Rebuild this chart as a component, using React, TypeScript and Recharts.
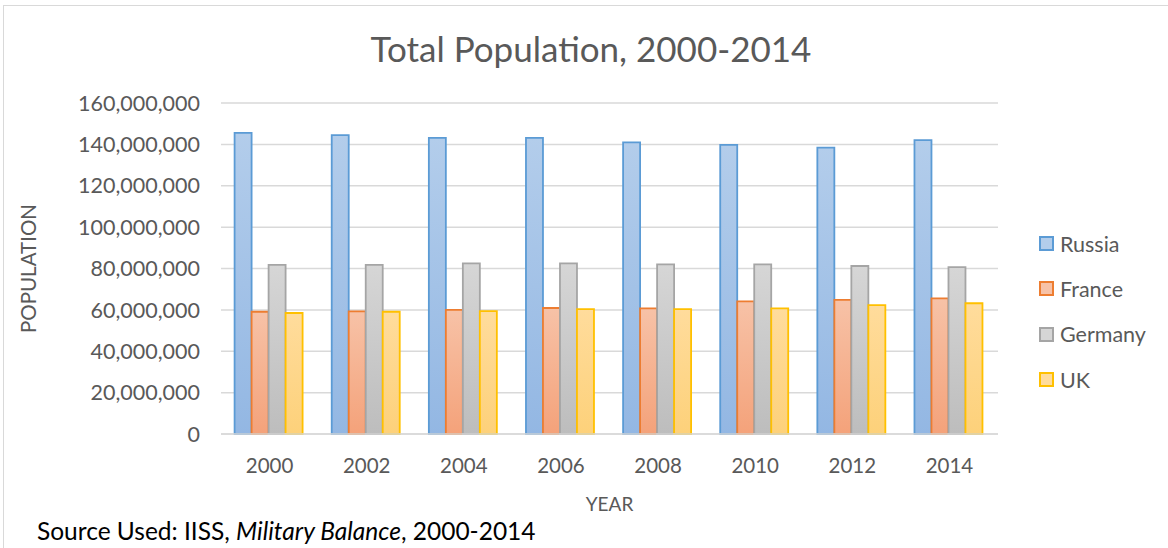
import { Bar, BarChart, CartesianGrid, Label, XAxis, YAxis } from "recharts";

const years = ["2000", "2002", "2004", "2006", "2008", "2010", "2012", "2014"];
const russia = [145.6, 144.5, 143.1, 143.1, 141.0, 139.8, 138.4, 142.1];
const france = [59.1, 59.3, 60.0, 60.9, 60.7, 64.1, 64.8, 65.6];
const germany = [81.8, 81.8, 82.5, 82.5, 82.0, 82.0, 81.2, 80.7];
const uk = [58.5, 59.1, 59.4, 60.4, 60.4, 60.7, 62.3, 63.2];
const yTicks = [0, 20e6, 40e6, 60e6, 80e6, 100e6, 120e6, 140e6, 160e6];

const SERIES = [
  { key: "russia", name: "Russia", values: russia, stroke: "#5b9bd5", top: "#b3cdeb", bottom: "#93b7e3" },
  { key: "france", name: "France", values: france, stroke: "#ed7d31", top: "#f7c2a7", bottom: "#f4a27a" },
  { key: "germany", name: "Germany", values: germany, stroke: "#a5a5a5", top: "#d6d6d6", bottom: "#bdbdbd" },
  { key: "uk", name: "UK", values: uk, stroke: "#ffc000", top: "#ffdc9c", bottom: "#fdd17a" },
];

const data = years.map((year, i) => {
  const row: Record<string, string | number> = { year };
  SERIES.forEach((s) => {
    row[s.key] = s.values[i] * 1e6;
  });
  return row;
});

const FONT = "Lato, 'Open Sans', sans-serif";
const GREY = "#595959";

export default function App() {
  return (
    <div
      style={{
        position: "absolute",
        left: 0,
        top: 0,
        width: 1168,
        height: 548,
        background: "#fff",
        fontFamily: FONT,
        overflow: "hidden",
      }}
    >
      <div
        style={{
          position: "absolute",
          left: 3,
          top: 5,
          width: 1180,
          height: 560,
          border: "1px solid #d9d9d9",
        }}
      />
      <div
        style={{
          position: "absolute",
          left: 0,
          top: 27,
          width: 1182,
          textAlign: "center",
          fontSize: 35,
          color: GREY,
        }}
      >
        Total Population, 2000-2014
      </div>
      <BarChart
        width={1168}
        height={548}
        data={data}
        margin={{ top: 103, right: 170, bottom: 34, left: 0 }}
        barCategoryGap="14%"
        barGap={0}
        style={{ position: "absolute", left: 0, top: 0 }}
      >
        <defs>
          {SERIES.map((s) => (
            <linearGradient key={s.key} id={"g-" + s.key} x1="0" y1="0" x2="0" y2="1">
              <stop offset="0%" stopColor={s.top} />
              <stop offset="100%" stopColor={s.bottom} />
            </linearGradient>
          ))}
        </defs>
        <CartesianGrid vertical={false} stroke="#d9d9d9" strokeWidth={1.5} />
        <XAxis
          dataKey="year"
          height={80}
          tickSize={0}
          tickMargin={24}
          axisLine={{ stroke: "#d9d9d9", strokeWidth: 1.5 }}
          tick={{ fill: GREY, fontSize: 20.5, fontFamily: FONT }}
        >
          <Label
            value="YEAR"
            position="insideBottom"
            offset={3}
            style={{ fill: GREY, fontSize: 19, fontFamily: FONT }}
          />
        </XAxis>
        <YAxis
          width={221}
          domain={[0, 160e6]}
          ticks={yTicks}
          tickSize={0}
          tickMargin={21}
          axisLine={false}
          tickFormatter={(v) => Number(v).toLocaleString("en-US")}
          tick={{ fill: GREY, fontSize: 21.5, fontFamily: FONT }}
        >
          <Label
            value="POPULATION"
            angle={-90}
            position="insideLeft"
            offset={29}
            style={{ fill: GREY, fontSize: 20.5, fontFamily: FONT, textAnchor: "middle" }}
          />
        </YAxis>
        {SERIES.map((s) => (
          <Bar
            key={s.key}
            dataKey={s.key}
            name={s.name}
            fill={`url(#g-${s.key})`}
            stroke={s.stroke}
            strokeWidth={1.8}
            isAnimationActive={false}
          />
        ))}
      </BarChart>
      <div style={{ position: "absolute", left: 1039, top: 221 }}>
        {SERIES.map((s) => (
          <div
            key={s.key}
            style={{ display: "flex", alignItems: "center", height: 45.3, color: GREY, fontSize: 21.5 }}
          >
            <span
              style={{
                display: "inline-block",
                width: 11,
                height: 11,
                background: s.top,
                border: `2px solid ${s.stroke}`,
                marginRight: 6,
              }}
            />
            {s.name}
          </div>
        ))}
      </div>
      <div
        style={{
          position: "absolute",
          left: 37,
          top: 516,
          fontSize: 24.5,
          color: "#000",
        }}
      >
        Source Used: IISS, <i>Military Balance</i>, 2000-2014
      </div>
    </div>
  );
}
